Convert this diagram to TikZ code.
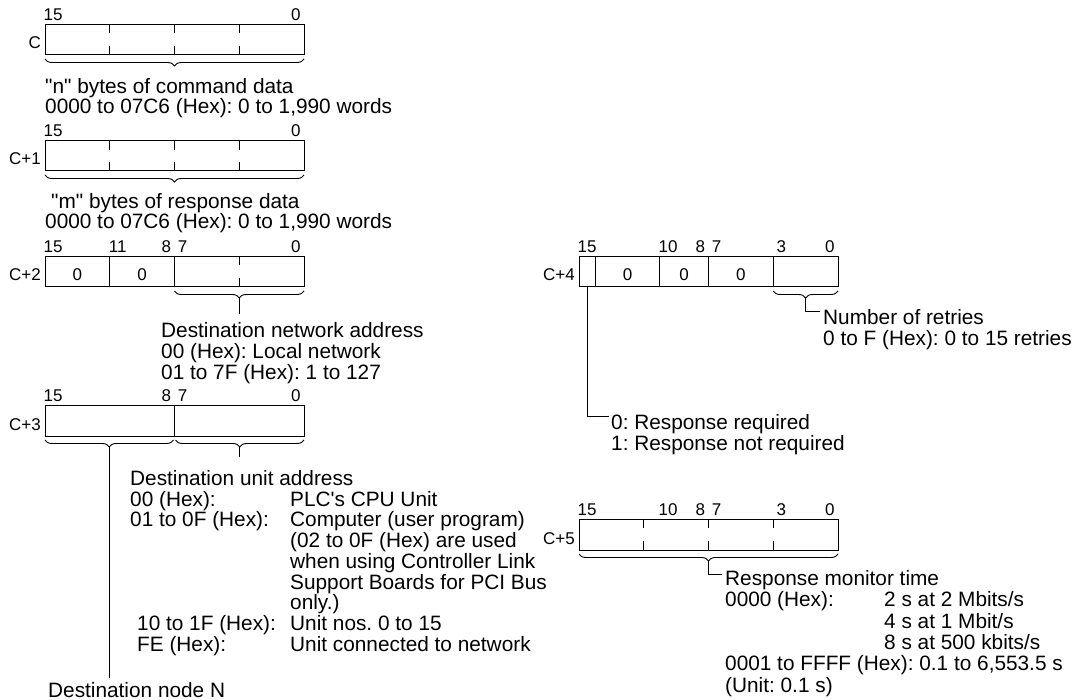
\documentclass[tikz,border=0pt]{standalone}
\usepackage{fontspec}
\setmainfont{Liberation Sans}
\usetikzlibrary{decorations.pathreplacing}
\frenchspacing
\tikzset{
  txt/.style={font=\fontsize{20.8}{20.8}\selectfont, inner sep=0pt, anchor=base west},
  bitn/.style={font=\fontsize{17}{17}\selectfont, inner sep=0pt, anchor=base},
  wname/.style={font=\fontsize{17}{17}\selectfont, inner sep=0pt, anchor=base east},
  fld/.style={font=\fontsize{17}{17}\selectfont, inner sep=0pt, anchor=base},
  wbox/.style={draw=black, line width=1pt},
  bittick/.style={draw=black, line width=1pt},
  brc/.style={draw=black, decorate, decoration={brace, amplitude=7pt}, line width=0.9pt},
  lead/.style={draw=black, line width=1pt},
}
\begin{document}
\frenchspacing
\begin{tikzpicture}[x=1pt,y=-1pt]
\useasboundingbox (0,0) rectangle (1081,700);

% ---------- word C ----------
\node[bitn] (c0h) at (53.1,20.5) {15};
\node[bitn] (c0l) at (295.9,20.5) {0};
\node[wname] (c0n) at (41,49) {C};
\draw[wbox] (45,24.5) rectangle (304,55);
\foreach \x in {109.75,174.5,239.25} {\draw[bittick] (\x,24.5) -- ++(0,9) (\x,55) -- ++(0,-9);}
\draw[brc] (304,59) -- (45,59);
\node[txt] (c0t1) at (45,93.5) {\textquotedbl n\textquotedbl{} bytes of command data};
\node[txt] (c0t2) at (45,114) {0000 to 07C6 (Hex): 0 to 1,990 words};

% ---------- word C+1 ----------
\node[bitn] (c1h) at (53.1,136.7) {15};
\node[bitn] (c1l) at (295.9,136.7) {0};
\node[wname] (c1n) at (41,165) {C+1};
\draw[wbox] (45,140.7) rectangle (304,171);
\foreach \x in {109.75,174.5,239.25} {\draw[bittick] (\x,140.7) -- ++(0,9) (\x,171) -- ++(0,-9);}
\draw[brc] (304,175) -- (45,175);
\node[txt] (c1t1) at (51,208.5) {\textquotedbl m\textquotedbl{} bytes of response data};
\node[txt] (c1t2) at (45,229) {0000 to 07C6 (Hex): 0 to 1,990 words};

% ---------- word C+2 ----------
\node[bitn] (c2a) at (53.1,252.5) {15};
\node[bitn] (c2b) at (117.8,252.5) {11};
\node[bitn] (c2c) at (166.4,252.5) {8};
\node[bitn] (c2d) at (182.6,252.5) {7};
\node[bitn] (c2e) at (295.9,252.5) {0};
\node[wname] (c2n) at (41,281) {C+2};
\draw[wbox] (45,256.5) rectangle (304,287);
\draw[bittick] (109.75,256.5) -- (109.75,287) (174.5,256.5) -- (174.5,287);
\draw[bittick] (239.25,256.5) -- ++(0,9) (239.25,287) -- ++(0,-9);
\node[fld] (c2f1) at (77.4,281) {0};
\node[fld] (c2f2) at (142.1,281) {0};
\draw[brc] (304,291) -- (174.5,291);
\coordinate (c2tip) at (239.25,298);
\coordinate (c2end) at (239.25,314);
\draw[lead] (c2tip) -- (c2end);
\node[txt] (dn1) at (161,337.5) {Destination network address};
\node[txt] (dn2) at (161,358.3) {00 (Hex): Local network};
\node[txt] (dn3) at (161,379.1) {01 to 7F (Hex): 1 to 127};

% ---------- word C+3 ----------
\node[bitn] (c3a) at (53.1,401.5) {15};
\node[bitn] (c3c) at (166.4,401.5) {8};
\node[bitn] (c3d) at (182.6,401.5) {7};
\node[bitn] (c3e) at (295.9,401.5) {0};
\node[wname] (c3n) at (41,430) {C+3};
\draw[wbox] (45,405.5) rectangle (304,436);
\draw[bittick] (174.5,405.5) -- (174.5,436);
\draw[brc] (173.5,440) -- (45,440);
\draw[brc] (304,440) -- (175.5,440);
\coordinate (c3ltip) at (109.25,447);
\coordinate (c3lend) at (109.25,678);
\coordinate (c3rtip) at (239.75,447);
\coordinate (c3rend) at (239.75,457);
\draw[lead] (c3ltip) -- (c3lend);
\draw[lead] (c3rtip) -- (c3rend);
\node[txt] (du1) at (130,485.5) {Destination unit address};
\node[txt] (du2a) at (130,506.2) {00 (Hex):};
\node[txt] (du2b) at (290,506.2) {PLC\textquotesingle s CPU Unit};
\node[txt] (du3a) at (130,526.9) {01 to 0F (Hex):};
\node[txt] (du3b) at (290,526.9) {Computer (user program)};
\node[txt] (du4) at (290,547.6) {(02 to 0F (Hex) are used};
\node[txt] (du5) at (290,568.3) {when using Controller Link};
\node[txt] (du6) at (290,589) {Support Boards for PCI Bus};
\node[txt] (du7) at (290,609.7) {only.)};
\node[txt] (du8a) at (137,630.4) {10 to 1F (Hex):};
\node[txt] (du8b) at (290,630.4) {Unit nos. 0 to 15};
\node[txt] (du9a) at (137,651.1) {FE (Hex):};
\node[txt] (du9b) at (290,651.1) {Unit connected to network};
\node[txt] (dnode) at (48,697) {Destination node N};

% ---------- word C+4 ----------
\node[bitn] (c4a) at (587.1,252.5) {15};
\node[bitn] (c4b) at (668.0,252.5) {10};
\node[bitn] (c4c) at (700.4,252.5) {8};
\node[bitn] (c4d) at (716.6,252.5) {7};
\node[bitn] (c4e) at (781.3,252.5) {3};
\node[bitn] (c4f) at (829.9,252.5) {0};
\node[wname] (c4n) at (575,281) {C+4};
\draw[wbox] (579,256.5) rectangle (838,287);
\foreach \x in {595.19,659.94,708.5,773.25} {\draw[bittick] (\x,256.5) -- (\x,287);}
\node[fld] (c4f1) at (627.6,281) {0};
\node[fld] (c4f2) at (684.2,281) {0};
\node[fld] (c4f3) at (740.9,281) {0};
\draw[brc] (838,291) -- (773.25,291);
\coordinate (c4tip) at (805.6,298);
\coordinate (c4corner) at (805.6,312);
\coordinate (c4end) at (820,312);
\draw[lead] (c4tip) -- (c4corner) -- (c4end);
\node[txt] (nr1) at (823,324.5) {Number of retries};
\node[txt] (nr2) at (823,345.3) {0 to F (Hex): 0 to 15 retries};
\coordinate (c4b15) at (587.1,287);
\coordinate (c4b15c) at (587.1,416);
\coordinate (c4b15e) at (609,416);
\draw[lead] (c4b15) -- (c4b15c) -- (c4b15e);
\node[txt] (rr1) at (611,429) {0: Response required};
\node[txt] (rr2) at (611,450) {1: Response not required};

% ---------- word C+5 ----------
\node[bitn] (c5a) at (587.1,515.3) {15};
\node[bitn] (c5b) at (668.0,515.3) {10};
\node[bitn] (c5c) at (700.4,515.3) {8};
\node[bitn] (c5d) at (716.6,515.3) {7};
\node[bitn] (c5e) at (781.3,515.3) {3};
\node[bitn] (c5f) at (829.9,515.3) {0};
\node[wname] (c5n) at (575,544) {C+5};
\draw[wbox] (579,519.3) rectangle (838,550);
\foreach \x in {643.75,708.5,773.25} {\draw[bittick] (\x,519.3) -- ++(0,9) (\x,550) -- ++(0,-9);}
\draw[brc] (838,554) -- (579,554);
\coordinate (c5tip) at (708.5,561);
\coordinate (c5corner) at (708.5,574);
\coordinate (c5end) at (722,574);
\draw[lead] (c5tip) -- (c5corner) -- (c5end);
\node[txt] (rm1) at (725,585.5) {Response monitor time};
\node[txt] (rm2a) at (725,606.8) {0000 (Hex):};
\node[txt] (rm2b) at (884,606.8) {2 s at 2 Mbits/s};
\node[txt] (rm3) at (884,628.1) {4 s at 1 Mbit/s};
\node[txt] (rm4) at (884,649.4) {8 s at 500 kbits/s};
\node[txt] (rm5) at (725,670.7) {0001 to FFFF (Hex): 0.1 to 6,553.5 s};
\node[txt] (rm6) at (725,692) {(Unit: 0.1 s)};
\end{tikzpicture}
\end{document}
